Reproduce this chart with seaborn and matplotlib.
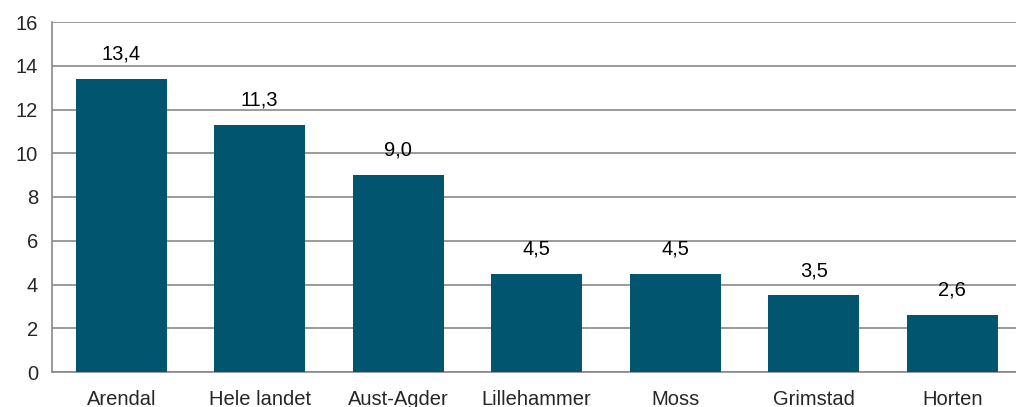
import matplotlib
matplotlib.use("Agg")
import matplotlib.pyplot as plt
import seaborn as sns
import pandas as pd
import numpy as np

categories = ["Arendal", "Hele landet", "Aust-Agder", "Lillehammer", "Moss", "Grimstad", "Horten"]
values = [13.4, 11.3, 9.0, 4.5, 4.5, 3.5, 2.6]

df = pd.DataFrame({"Sted": categories, "Verdi": values})

sns.set_style("white")
plt.rcParams["font.family"] = ["Liberation Sans", "DejaVu Sans"]

grid_col = "#898989"
bar_col = "#02556F"

fig = plt.figure(figsize=(10.16, 4.07), dpi=100)
ax = fig.add_axes([52 / 1016, 35 / 407, 969.5 / 1016, 350 / 407])

sns.barplot(data=df, x="Sted", y="Verdi", color=bar_col, width=0.66, ax=ax,
            saturation=1, linewidth=0, zorder=3)

ax.set_ylim(0, 16)
ax.set_yticks(range(0, 17, 2))
ax.set_xlim(-0.5, len(categories) - 0.5)
ax.yaxis.grid(True, color=grid_col, linewidth=1.2, zorder=0)
ax.set_axisbelow(True)

for s in ["top", "right"]:
    ax.spines[s].set_visible(False)
for s in ["left", "bottom"]:
    ax.spines[s].set_color(grid_col)
    ax.spines[s].set_linewidth(1.2)

ax.set_xlabel("")
ax.set_ylabel("")
ax.tick_params(axis="y", length=5, width=1.2, color=grid_col, labelsize=14.5, pad=5)
ax.tick_params(axis="x", which="major", length=0, labelsize=14.5, pad=13)
ax.set_xticks(np.arange(-0.5, len(categories), 1), minor=True)
ax.tick_params(axis="x", which="minor", length=6, width=1.2, color=grid_col)

for i, v in enumerate(values):
    ax.text(i, v + 0.7, f"{v:.1f}".replace(".", ","), ha="center", va="bottom",
            fontsize=14.5, color="black")

fig.savefig("out.png", dpi=100)
